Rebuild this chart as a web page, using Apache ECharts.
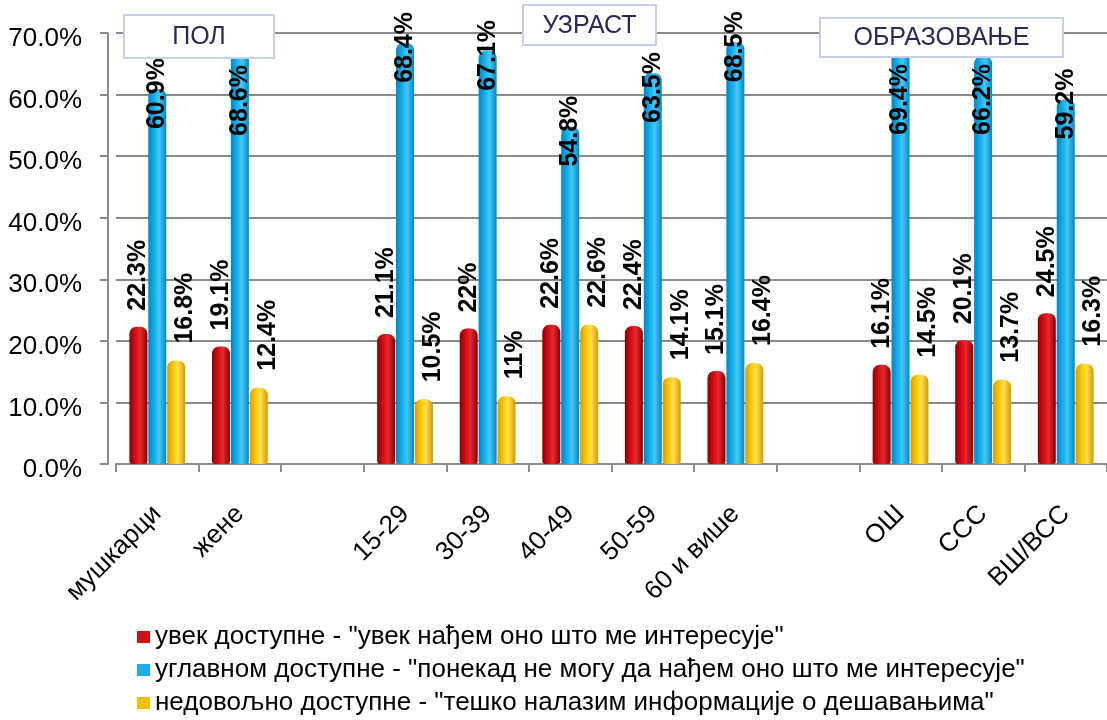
<!DOCTYPE html>
<html>
<head>
<meta charset="utf-8">
<script src="https://cdn.jsdelivr.net/npm/echarts@6/dist/echarts.min.js"></script>
<style>
  html, body { margin: 0; padding: 0; background: #fff; }
  #chart { width: 1107px; height: 720px; }
</style>
</head>
<body>
<div id="chart"></div>
<script>
// ---- data ----
const categories = ['мушкарци', 'жене', '', '15-29', '30-39', '40-49', '50-59', '60 и више', '', 'ОШ', 'ССС', 'ВШ/ВСС'];
const seriesNames = [
  'увек доступне - "увек нађем оно што ме интересује"',
  'углавном доступне - "понекад не могу да нађем оно што ме интересује"',
  'недовољно доступне - "тешко налазим информације о дешавањима"'
];
const alwaysAvail = [22.3, 19.1, null, 21.1, 22, 22.6, 22.4, 15.1, null, 16.1, 20.1, 24.5];
const mostlyAvail = [60.9, 68.6, null, 68.4, 67.1, 54.8, 63.5, 68.5, null, 69.4, 66.2, 59.2];
const notEnough   = [16.8, 12.4, null, 10.5, 11, 22.6, 14.1, 16.4, null, 14.5, 13.7, 16.3];
const yMin = 0, yMax = 70, yStep = 10;
const groupTitles = ['ПОЛ', 'УЗРАСТ', 'ОБРАЗОВАЊЕ'];

// ---- layout of the annotation boxes ----
const titleBoxes = [
  { x: 124, y: 15, w: 150, h: 43 },
  { x: 523, y: 5,  w: 133, h: 40 },
  { x: 820, y: 18, w: 243, h: 39 }
];

const FONT = "'Liberation Sans', Arial, sans-serif";

function grad(edgeL, mid1, mid2, edgeR) {
  return new echarts.graphic.LinearGradient(0, 0, 1, 0, [
    { offset: 0, color: edgeL },
    { offset: 0.4, color: mid1 },
    { offset: 0.6, color: mid2 },
    { offset: 1, color: edgeR }
  ]);
}
const colRed = grad('#8e0000', '#e0101a', '#e42a30', '#8a0000');
const colBlue = grad('#0086c4', '#1cb6ee', '#46c8f6', '#0088c6');
const colYellow = grad('#d89e00', '#ffcf10', '#ffe050', '#d29a00');

const labelBase = {
  show: true,
  position: 'top',
  rotate: 90,
  align: 'left',
  verticalAlign: 'middle',
  fontFamily: FONT,
  fontSize: 25,
  fontWeight: 'bold',
  color: '#000',
  formatter: p => p.value + '%'
};

// label is rotated 90°: local x points up on screen, local y points right
function avoidBoxes(p) {
  const r = p.labelRect;
  for (const b of titleBoxes) {
    if (r.x < b.x + b.w && r.x + r.width > b.x && r.y < b.y + b.h && r.y + r.height > b.y) {
      return { dx: -(b.y + b.h + 7 - r.y) };
    }
  }
  return {};
}

const chart = echarts.init(document.getElementById('chart'), null, { renderer: 'canvas' });

const option = {
  animation: false,
  backgroundColor: '#fff',
  grid: { left: 116, right: 0, top: 33, bottom: 256, containLabel: false },
  xAxis: {
    type: 'category',
    data: categories,
    offset: 6,
    axisLine: { show: true, lineStyle: { color: '#8a8a8a', width: 2 } },
    axisTick: { show: true, length: 8, lineStyle: { color: '#8a8a8a', width: 2 } },
    axisLabel: {
      interval: 0, rotate: 45, margin: 40,
      fontFamily: FONT, fontSize: 26, color: '#000'
    },
    splitLine: { show: false }
  },
  yAxis: {
    type: 'value',
    min: yMin, max: yMax, interval: yStep,
    offset: 8,
    axisLine: { show: true, lineStyle: { color: '#8a8a8a', width: 2 } },
    axisTick: { show: true, length: 8, lineStyle: { color: '#8a8a8a', width: 2 } },
    axisLabel: {
      margin: 26,
      fontFamily: FONT, fontSize: 26, color: '#000',
      formatter: v => '{v|' + v.toFixed(1) + '%}',
      rich: { v: { fontFamily: FONT, fontSize: 26, color: '#000', padding: [12, 0, 0, 0] } }
    },
    splitLine: { show: true, lineStyle: { color: '#8a8a8a', width: 2 } }
  },
  legend: {
    orient: 'vertical',
    left: 137,
    top: 624,
    height: 110,
    padding: 0,
    itemWidth: 13,
    itemHeight: 12,
    itemGap: 7,
    icon: 'rect',
    textStyle: { fontFamily: FONT, fontSize: 26, color: '#000', lineHeight: 26 },
    data: [
      { name: seriesNames[0], itemStyle: { color: '#d01018' } },
      { name: seriesNames[1], itemStyle: { color: '#1aaee6' } },
      { name: seriesNames[2], itemStyle: { color: '#f2c200' } }
    ]
  },
  graphic: titleBoxes.map((b, i) => ({
    type: 'group',
    z: 100,
    children: [
      { type: 'rect', shape: { x: b.x, y: b.y, width: b.w, height: b.h },
        style: { fill: '#fff', stroke: '#c6d0e6', lineWidth: 2 }, z: 100 },
      { type: 'text', x: b.x + b.w / 2, y: b.y + b.h / 2 + 1, z: 101,
        style: { text: groupTitles[i], fill: '#2c2858', font: '25px ' + FONT,
                 align: 'center', verticalAlign: 'middle' } }
    ]
  })),
  series: [
    {
      name: seriesNames[0], type: 'bar', data: alwaysAvail,
      barWidth: 18, barGap: '5%',
      itemStyle: { color: colRed, borderRadius: [7, 7, 3, 3] },
      label: Object.assign({}, labelBase, { distance: 16 }),
      emphasis: { disabled: true }
    },
    {
      name: seriesNames[1], type: 'bar', data: mostlyAvail,
      barWidth: 18, barGap: '5%',
      itemStyle: { color: colBlue, borderRadius: [7, 7, 3, 3] },
      label: Object.assign({}, labelBase, { distance: -40 }),
      labelLayout: avoidBoxes,
      emphasis: { disabled: true }
    },
    {
      name: seriesNames[2], type: 'bar', data: notEnough,
      barWidth: 18, barGap: '5%',
      itemStyle: { color: colYellow, borderRadius: [7, 7, 3, 3] },
      label: Object.assign({}, labelBase, { distance: 17 }),
      labelLayout: { dy: 9 },
      emphasis: { disabled: true }
    }
  ]
};
chart.setOption(option);
</script>
</body>
</html>
